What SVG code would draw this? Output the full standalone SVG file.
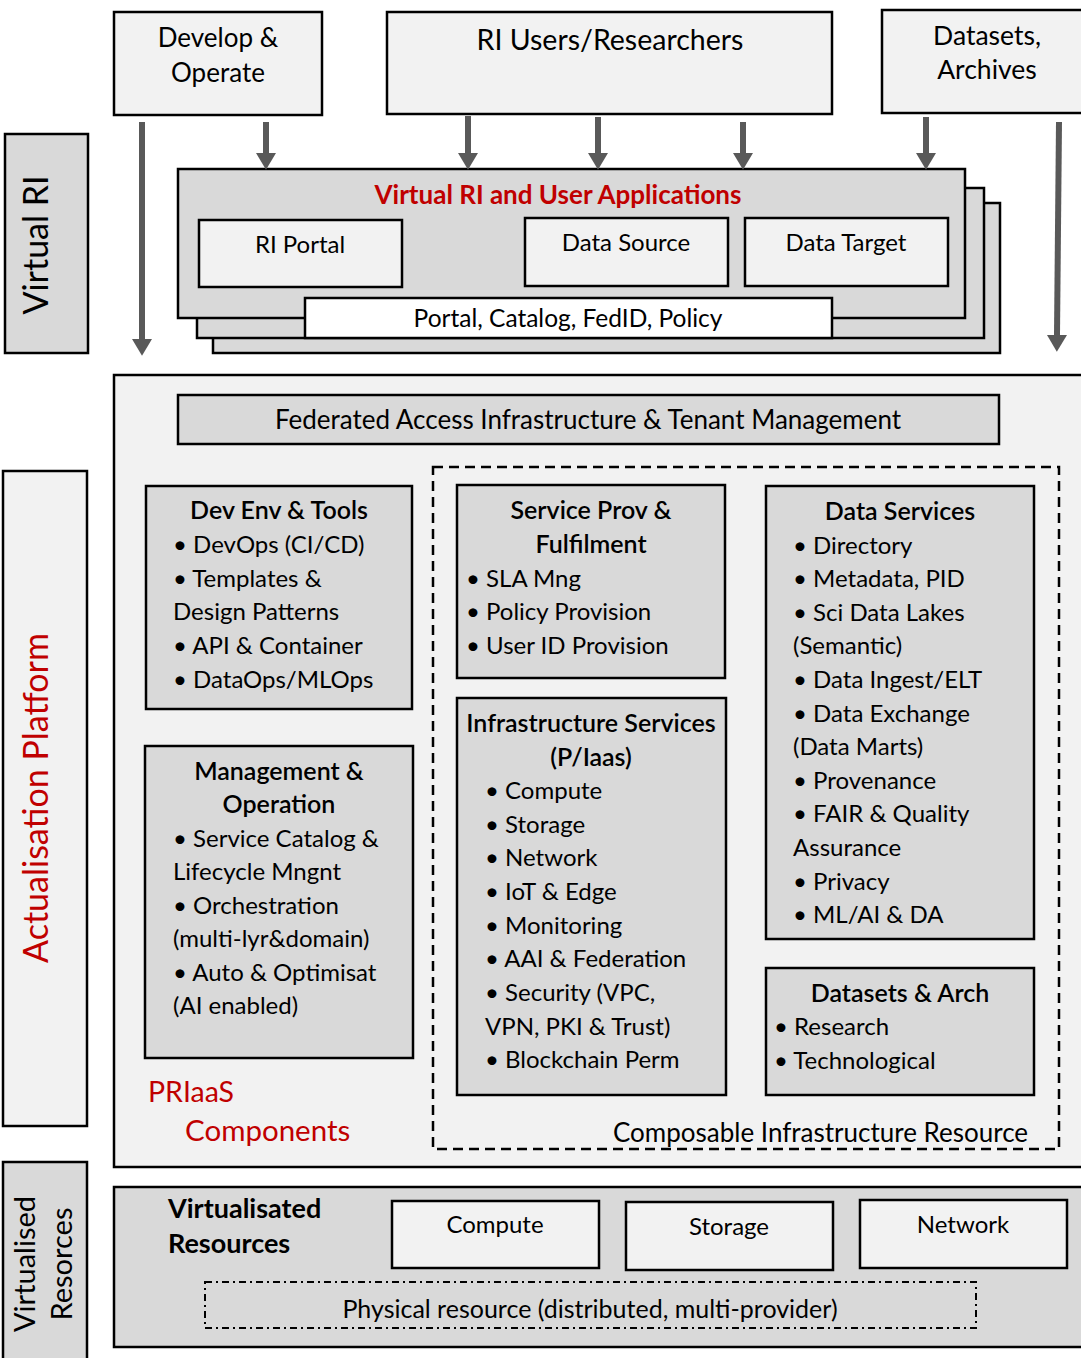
<svg xmlns="http://www.w3.org/2000/svg" width="1081" height="1358" viewBox="0 0 1081 1358">
<style>
text{font-family:Lato,"Open Sans","Liberation Sans",sans-serif;fill:#000}
.b{stroke:#000;stroke-width:2.5}
.lt{fill:#f2f2f2}
.md{fill:#d9d9d9}
.wh{fill:#fff}
.t{font-size:24px}
.c{text-anchor:middle}
.h{font-size:25px;font-weight:600}
.red{fill:#c00000}
.side{font-size:34px}
.ar{stroke:#595959;stroke-width:6;fill:none}
</style>
<defs>
<marker id="ah" markerUnits="userSpaceOnUse" markerWidth="20" markerHeight="20" refX="0" refY="9.5" orient="auto" viewBox="0 0 16 19">
<path d="M0,0 L16,9.5 L0,19 z" fill="#595959"/>
</marker>
</defs>
<rect width="1081" height="1358" fill="#fff"/>

<g id="side-virtual-ri">
<rect class="b md" x="5" y="134" width="83" height="219"/>
<text class="side c" transform="translate(48,245) rotate(-90)">Virtual RI</text>
</g>
<g id="side-actualisation">
<rect class="b lt" x="3" y="471" width="84" height="655"/>
<text class="side c red" transform="translate(48,798) rotate(-90)">Actualisation Platform</text>
</g>
<g id="side-virtualised">
<rect class="b md" x="3" y="1162" width="84" height="200"/>
<text class="c" style="font-size:29px" transform="translate(35,1264) rotate(-90)">Virtualised</text>
<text class="c" style="font-size:29px" transform="translate(72,1264) rotate(-90)">Resorces</text>
</g>

<g id="develop-operate">
<rect class="b lt" x="114" y="12" width="208" height="103"/>
<text class="c" style="font-size:26px" x="218" y="47">Develop &amp;</text>
<text class="c" style="font-size:26px" x="218" y="82">Operate</text>
</g>
<g id="ri-users">
<rect class="b lt" x="387" y="12" width="445" height="102"/>
<text class="c" style="font-size:28.5px" x="610" y="50">RI Users/Researchers</text>
</g>
<g id="datasets-archives">
<rect class="b lt" x="882" y="10" width="205" height="103"/>
<text class="c" style="font-size:26.5px" x="987" y="45">Datasets,</text>
<text class="c" style="font-size:26.5px" x="987" y="79">Archives</text>
</g>

<g id="virtual-ri-apps">
<rect class="b md" x="213" y="203" width="787" height="150"/>
<rect class="b md" x="197" y="188" width="787" height="150"/>
<rect class="b md" x="178" y="169" width="787" height="149"/>
<text class="c red" style="font-size:26px;font-weight:700" x="558" y="204">Virtual RI and User Applications</text>
</g>
<g id="ri-portal">
<rect class="b lt" x="199" y="220" width="203" height="67"/>
<text class="t c" x="300" y="253">RI Portal</text>
</g>
<g id="data-source">
<rect class="b lt" x="525" y="218" width="203" height="68"/>
<text class="t c" x="626" y="251">Data Source</text>
</g>
<g id="data-target">
<rect class="b lt" x="745" y="218" width="203" height="68"/>
<text class="t c" x="846" y="251">Data Target</text>
</g>
<g id="portal-catalog">
<rect class="b wh" x="305" y="298" width="527" height="40"/>
<text class="c" style="font-size:24.5px" x="568" y="327">Portal, Catalog, FedID, Policy</text>
</g>

<g id="actualisation-platform">
<rect class="b lt" x="114" y="375" width="970" height="792"/>
<text class="red" style="font-size:28.5px" x="148" y="1102">PRIaaS</text>
<text class="red" style="font-size:29.5px" x="185" y="1141">Components</text>
</g>
<g id="federated-access">
<rect class="b md" x="178" y="395" width="821" height="49"/>
<text class="c" style="font-size:26px" x="588" y="429">Federated Access Infrastructure &amp; Tenant Management</text>
</g>
<g id="composable">
<rect x="433" y="467" width="626" height="682" fill="none" stroke="#000" stroke-width="2.5" stroke-dasharray="10 6"/>
<text style="font-size:26px" x="613" y="1142">Composable Infrastructure Resource</text>
</g>

<g id="dev-env">
<rect class="b md" x="146" y="486" width="266" height="223"/>
<text class="h c" x="279" y="519">Dev Env &amp; Tools</text>
<text class="t" x="173" y="553">• DevOps (CI/CD)</text>
<text class="t" x="173" y="587">• Templates &amp;</text>
<text class="t" x="173" y="620">Design Patterns</text>
<text class="t" x="173" y="654">• API &amp; Container</text>
<text class="t" x="173" y="688">• DataOps/MLOps</text>
</g>
<g id="management">
<rect class="b md" x="145" y="746" width="268" height="312"/>
<text class="h c" x="279" y="780">Management &amp;</text>
<text class="h c" x="279" y="813">Operation</text>
<text class="t" x="173" y="847">• Service Catalog &amp;</text>
<text class="t" x="173" y="880">Lifecycle Mngnt</text>
<text class="t" x="173" y="914">• Orchestration</text>
<text class="t" x="173" y="947">(multi-lyr&amp;domain)</text>
<text class="t" x="173" y="981">• Auto &amp; Optimisat</text>
<text class="t" x="173" y="1014">(AI enabled)</text>
</g>
<g id="service-prov">
<rect class="b md" x="457" y="485" width="268" height="193"/>
<text class="h c" x="591" y="519">Service Prov &amp;</text>
<text class="h c" x="591" y="553">Fulfilment</text>
<text class="t" x="466" y="587">• SLA Mng</text>
<text class="t" x="466" y="620">• Policy Provision</text>
<text class="t" x="466" y="654">• User ID Provision</text>
</g>
<g id="infrastructure-services">
<rect class="b md" x="457" y="698" width="269" height="397"/>
<text class="h c" x="591" y="732">Infrastructure Services</text>
<text class="h c" x="591" y="766">(P/Iaas)</text>
<text class="t" x="485" y="799">• Compute</text>
<text class="t" x="485" y="833">• Storage</text>
<text class="t" x="485" y="866">• Network</text>
<text class="t" x="485" y="900">• IoT &amp; Edge</text>
<text class="t" x="485" y="934">• Monitoring</text>
<text class="t" x="485" y="967">• AAI &amp; Federation</text>
<text class="t" x="485" y="1001">• Security (VPC,</text>
<text class="t" x="485" y="1035">VPN, PKI &amp; Trust)</text>
<text class="t" x="485" y="1068">• Blockchain Perm</text>
</g>
<g id="data-services">
<rect class="b md" x="766" y="486" width="268" height="453"/>
<text class="h c" x="900" y="520">Data Services</text>
<text class="t" x="793" y="554">• Directory</text>
<text class="t" x="793" y="587">• Metadata, PID</text>
<text class="t" x="793" y="621">• Sci Data Lakes</text>
<text class="t" x="793" y="654">(Semantic)</text>
<text class="t" x="793" y="688">• Data Ingest/ELT</text>
<text class="t" x="793" y="722">• Data Exchange</text>
<text class="t" x="793" y="755">(Data Marts)</text>
<text class="t" x="793" y="789">• Provenance</text>
<text class="t" x="793" y="822">• FAIR &amp; Quality</text>
<text class="t" x="793" y="856">Assurance</text>
<text class="t" x="793" y="890">• Privacy</text>
<text class="t" x="793" y="923">• ML/AI &amp; DA</text>
</g>
<g id="datasets-arch">
<rect class="b md" x="766" y="968" width="268" height="127"/>
<text class="h c" x="900" y="1002">Datasets &amp; Arch</text>
<text class="t" x="774" y="1035">• Research</text>
<text class="t" x="774" y="1069">• Technological</text>
</g>

<g id="virtualised-resources">
<rect class="b md" x="114" y="1187" width="970" height="160"/>
<text style="font-size:27px;font-weight:700" x="168" y="1218">Virtualisated</text>
<text style="font-size:27px;font-weight:700" x="168" y="1253">Resources</text>
</g>
<g id="vr-compute">
<rect class="b lt" x="392" y="1201" width="207" height="67"/>
<text class="t c" x="495" y="1233">Compute</text>
</g>
<g id="vr-storage">
<rect class="b lt" x="626" y="1202" width="207" height="68"/>
<text class="t c" x="729" y="1235">Storage</text>
</g>
<g id="vr-network">
<rect class="b lt" x="860" y="1200" width="207" height="68"/>
<text class="t c" x="963" y="1233">Network</text>
</g>
<g id="physical-resource">
<rect x="205" y="1282" width="771" height="46" fill="none" stroke="#000" stroke-width="2" stroke-dasharray="7 4 2 4"/>
<text class="c" style="font-size:25px" x="590" y="1318">Physical resource (distributed, multi-provider)</text>
</g>

<g id="connectors">
<line class="ar" marker-end="url(#ah)" x1="142" y1="122" x2="142" y2="339"/>
<line class="ar" marker-end="url(#ah)" x1="266" y1="122" x2="266" y2="153"/>
<line class="ar" marker-end="url(#ah)" x1="468" y1="116" x2="468" y2="153"/>
<line class="ar" marker-end="url(#ah)" x1="598" y1="117" x2="598" y2="153"/>
<line class="ar" marker-end="url(#ah)" x1="743" y1="122" x2="743" y2="153"/>
<line class="ar" marker-end="url(#ah)" x1="926" y1="117" x2="926" y2="153"/>
<line class="ar" marker-end="url(#ah)" x1="1059" y1="122" x2="1057" y2="335"/>
</g>
</svg>
